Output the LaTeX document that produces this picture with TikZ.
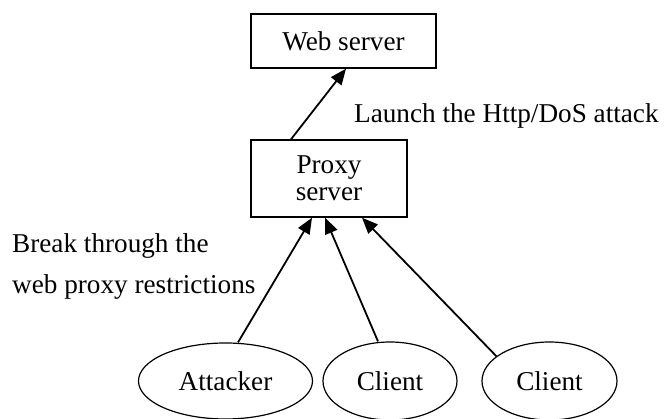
\documentclass[tikz,border=0pt]{standalone}
\usepackage{fontspec}
\setmainfont{Liberation Serif}
\usetikzlibrary{shapes.geometric,arrows.meta}
\begin{document}
\begin{tikzpicture}[x=1pt,y=-1pt,
  every node/.style={font=\fontsize{27.2}{29}\selectfont, inner sep=0pt},
  boxnode/.style={draw, line width=1.4pt, rectangle, align=center},
  ellnode/.style={draw, line width=1.2pt, ellipse},
  conn/.style={line width=1.8pt, -{Triangle[length=16pt,width=13pt]}},
  lbl/.style={anchor=base west, align=left}]
\useasboundingbox (0,0) rectangle (665,419);
\node[boxnode, minimum width=185pt, minimum height=54pt] (web) at (343.5,41) {Web server};
\node[boxnode, minimum width=156pt, minimum height=77pt] (proxy) at (329,178.5) {Proxy\\[-2pt]server};
\node[ellnode, minimum width=174pt, minimum height=76pt] (att) at (225.5,381) {Attacker};
\node[ellnode, minimum width=134pt, minimum height=78pt] (cl1) at (390,381) {Client};
\node[ellnode, minimum width=135pt, minimum height=78pt] (cl2) at (549.5,381) {Client};
\draw[conn] ([xshift=-38pt]proxy.north) -- ([xshift=2.5pt]web.south);
\draw[conn] ([xshift=12.5pt]att.north) -- ([xshift=-17pt]proxy.south);
\draw[conn] ([xshift=-12pt]cl1.north) -- ([xshift=-4pt]proxy.south);
\draw[conn] (cl2.155) -- ([xshift=33pt]proxy.south);
\node[lbl] (l1) at (354,123) {Launch the Http/DoS attack};
\node[lbl] (l2) at (12,253) {Break through the};
\node[lbl] (l3) at (12,294) {web proxy restrictions};
\end{tikzpicture}
\end{document}
